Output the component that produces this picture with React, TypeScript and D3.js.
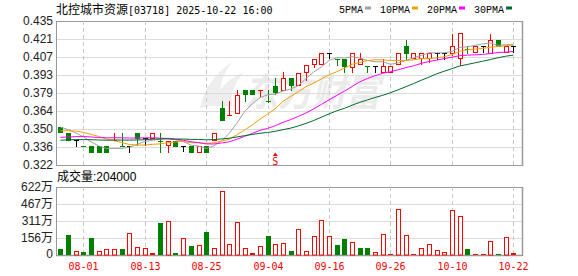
import React from 'react';
import * as d3 from 'd3';

const dates = [
  '07-29','07-30','07-31','08-01','08-04','08-05','08-06','08-07','08-08','08-11',
  '08-12','08-13','08-14','08-15','08-18','08-19','08-20','08-21','08-22','08-25',
  '08-26','08-27','08-28','08-29','09-01','09-02','09-03','09-04','09-05','09-08',
  '09-09','09-10','09-11','09-12','09-15','09-16','09-17','09-18','09-19','09-22',
  '09-23','09-24','09-25','09-26','09-29','09-30','10-02','10-03','10-06','10-08',
  '10-09','10-10','10-13','10-14','10-15','10-16','10-17','10-20','10-21','10-22',
];

const opens = [
  0.352,0.347,0.342,0.337,0.337,0.337,0.337,0.342,0.337,0.337,
  0.347,0.343,0.343,0.341,0.3375,0.341,0.337,0.337,0.332,0.337,
  0.342,0.3665,0.361,0.3625,0.381,0.381,0.381,0.3725,0.384,0.381,
  0.390,0.385,0.3952,0.401,0.401,0.410,0.405,0.405,0.399,0.401,
  0.400,0.400,0.395,0.395,0.401,0.4155,0.406,0.406,0.406,0.410,
  0.410,0.410,0.4057,0.413,0.411,0.4155,0.410,0.420,0.411,0.4155,
];
const highs = [
  0.352,0.347,0.342,0.337,0.337,0.337,0.337,0.347,0.347,0.337,
  0.347,0.343,0.347,0.347,0.341,0.341,0.337,0.337,0.337,0.337,
  0.347,0.372,0.372,0.381,0.381,0.381,0.381,0.381,0.390,0.3947,
  0.390,0.3945,0.4005,0.405,0.410,0.410,0.405,0.405,0.410,0.410,
  0.400,0.400,0.405,0.400,0.410,0.420,0.410,0.410,0.410,0.410,
  0.410,0.425,0.4253,0.415,0.4155,0.4155,0.425,0.420,0.4155,0.4155,
];
const lows = [
  0.348,0.342,0.337,0.337,0.332,0.332,0.332,0.342,0.337,0.332,
  0.338,0.338,0.343,0.332,0.332,0.337,0.333,0.332,0.332,0.332,
  0.342,0.357,0.361,0.3625,0.372,0.3775,0.3765,0.3717,0.378,0.381,
  0.3808,0.385,0.3887,0.399,0.401,0.4057,0.4005,0.395,0.395,0.401,
  0.395,0.395,0.395,0.395,0.401,0.405,0.406,0.401,0.4025,0.405,
  0.405,0.408,0.4003,0.410,0.411,0.411,0.410,0.4155,0.411,0.411,
];
const closes = [
  0.348,0.342,0.342,0.337,0.332,0.332,0.332,0.342,0.337,0.337,
  0.343,0.343,0.347,0.341,0.341,0.337,0.337,0.332,0.337,0.332,
  0.347,0.357,0.361,0.377,0.3775,0.3775,0.381,0.3725,0.3795,0.390,
  0.3848,0.3945,0.4005,0.405,0.410,0.410,0.405,0.400,0.410,0.405,
  0.400,0.400,0.400,0.400,0.410,0.410,0.410,0.410,0.410,0.410,
  0.410,0.4155,0.4253,0.413,0.4155,0.4155,0.420,0.4155,0.4155,0.4155,
];
// volume in 万 shares
const volumes = [
  55,183,40,25,152,40,52,52,52,198,
  70,61,21,290,311,15,152,82,91,213,
  61,585,98,299,61,15,79,174,98,107,
  37,235,34,171,317,171,91,146,119,64,
  64,24,189,9,418,180,9,61,98,46,
  24,409,354,55,9,9,128,9,162,20.4,
];
// closes of the 29 sessions before the first visible one (estimated from MA levels)
const priorCloses = [
  0.335,0.335,0.337,0.335,0.338,0.337,0.337,0.340,0.338,0.338,
  0.337,0.335,0.337,0.338,0.340,0.338,0.340,0.338,0.342,0.340,
  0.342,0.345,0.347,0.347,0.349,0.352,0.355,0.352,0.352,
];

const priceTickLabels = ['0.435','0.421','0.407','0.393','0.379','0.364','0.350','0.336','0.322'];
const volumeTickLabels = ['622万','467万','311万','156万','0'];
const xTickDates = ['08-01','08-13','08-25','09-04','09-16','09-26','10-10','10-22'];
const maPeriods = [5, 10, 20, 30];
const maNames = ['5PMA','10PMA','20PMA','30PMA'];
const signalDate = '09-05';
const stockTitle = '北控城市资源';
const stockCode = '[03718] 2025-10-22 16:00';
const lastVolumeText = '成交量:204000';

const maColors = ['#a0a0a0', '#f0a000', '#ff00ff', '#006b2c'];
const RED = '#ff0000';
const GREEN = '#008000';

const PLOT_L = 56, PLOT_R = 522;
const MAIN_T = 21, MAIN_B = 165;
const VOL_T = 187, VOL_B = 255;

export default function App() {
  const x = d3.scalePoint<string>().domain(dates).range([60.3, 513.3]);
  const y = d3.scaleLinear().domain([0.322, 0.435]).range([MAIN_B, MAIN_T]);
  const yv = d3.scaleLinear().domain([0, 622]).range([VOL_B, VOL_T]);

  const all = priorCloses.concat(closes);
  const off = priorCloses.length;
  const mas = maPeriods.map((p) =>
    closes.map((_, i) => {
      const end = i + off;
      const start = end - p + 1;
      if (start < 0) return null;
      return d3.mean(all.slice(start, end + 1)) as number;
    })
  );

  const line = d3
    .line<number | null>()
    .defined((d) => d != null)
    .x((_, i) => x(dates[i]) as number)
    .y((d) => y(d as number));

  const candleColor = (i: number) => {
    const o = opens[i], c = closes[i];
    const prev = i > 0 ? closes[i - 1] : priorCloses[priorCloses.length - 1];
    if (c > o) return RED;
    if (c < o) return GREEN;
    if (c > prev) return RED;
    if (c < prev) return GREEN;
    return '#000000';
  };
  const volUp = (i: number) => {
    const prev = i > 0 ? closes[i - 1] : priorCloses[priorCloses.length - 1];
    return closes[i] >= prev;
  };

  const priceTickVals = d3.range(priceTickLabels.length).map(
    (k) => 0.435 - (k * (0.435 - 0.322)) / (priceTickLabels.length - 1)
  );
  const volTickVals = d3.range(volumeTickLabels.length).map(
    (k) => 622 - (k * 622) / (volumeTickLabels.length - 1)
  );

  // legend layout
  let lx = 339;
  const legendItems = maNames.map((n, k) => {
    const item = { name: n, x: lx, color: maColors[k] };
    lx += n.length * 6 + 2 + 6 + 9;
    return item;
  });

  const sx = x(signalDate) as number;

  return (
    <svg
      width={578}
      height={276}
      style={{ position: 'absolute', left: 0, top: 0, background: '#fff' }}
      shapeRendering="auto"
    >
      <rect x={0} y={0} width={578} height={276} fill="#ffffff" />
      {/* title */}
      <text x={56} y={14} fontSize={12} fontFamily="'Noto Sans CJK SC', sans-serif" fill="#000">
        {stockTitle}
        <tspan fontFamily="'DejaVu Sans Mono', monospace" fontSize={10}>{stockCode}</tspan>
      </text>
      {/* legend */}
      {legendItems.map((it) => (
        <g key={it.name}>
          <text x={it.x} y={12.5} fontSize={10} fontFamily="'Liberation Mono', monospace" fill="#000">
            {it.name}
          </text>
          <rect x={it.x + it.name.length * 6 + 2} y={6.5} width={6} height={3} fill={it.color} />
        </g>
      ))}

      {/* watermark */}
      <g opacity={1}>
        <path
          d="M200,108 C204,90 214,74 232,62 C222,76 218,88 220,104 Z M212,106 C216,92 226,80 244,72 C234,84 230,94 232,106 Z"
          fill="#eeeeee"
        />
        <text
          x={244}
          y={106}
          fontSize={38}
          fontWeight="bold"
          fontStyle="italic"
          fontFamily="'Noto Sans CJK SC', sans-serif"
          fill="#ebebeb"
          textLength={136}
          lengthAdjust="spacingAndGlyphs"
        >
          东方财富
        </text>
      </g>

      {/* main grid */}
      {priceTickVals.map((v, k) => (
        <line
          key={'pg' + k}
          x1={PLOT_L}
          x2={PLOT_R}
          y1={Math.round(y(v)) + 0.5}
          y2={Math.round(y(v)) + 0.5}
          stroke={k === 0 || k === priceTickVals.length - 1 ? '#999' : '#dcdcdc'}
          strokeWidth={1}
        />
      ))}
      {volTickVals.map((v, k) => (
        <line
          key={'vg' + k}
          x1={PLOT_L}
          x2={PLOT_R}
          y1={Math.round(yv(v)) + 0.5}
          y2={Math.round(yv(v)) + 0.5}
          stroke={k === 0 || k === volTickVals.length - 1 ? '#999' : '#dcdcdc'}
          strokeWidth={k === volTickVals.length - 1 ? 1.5 : 1}
        />
      ))}
      {xTickDates.map((d) => {
        const xx = Math.round(x(d) as number) + 0.5;
        return (
          <g key={'xg' + d}>
            <line x1={xx} x2={xx} y1={MAIN_T} y2={MAIN_B} stroke="#c8c8c8" strokeDasharray="4,3" />
            <line x1={xx} x2={xx} y1={VOL_T} y2={VOL_B} stroke="#c8c8c8" strokeDasharray="4,3" />
            <text
              x={xx}
              y={269.5}
              textAnchor="middle"
              fontSize={10}
              fontFamily="'DejaVu Sans Mono', monospace"
              fill={RED}
            >
              {d}
            </text>
          </g>
        );
      })}
      {/* frames */}
      <line x1={PLOT_L + 0.5} x2={PLOT_L + 0.5} y1={MAIN_T} y2={MAIN_B + 1} stroke="#999" />
      <line x1={PLOT_R + 0.5} x2={PLOT_R + 0.5} y1={MAIN_T} y2={MAIN_B + 1} stroke="#999" strokeWidth={1.5} />
      <line x1={PLOT_L + 0.5} x2={PLOT_L + 0.5} y1={VOL_T} y2={VOL_B + 1} stroke="#999" />
      <line x1={PLOT_R + 0.5} x2={PLOT_R + 0.5} y1={VOL_T} y2={VOL_B + 1} stroke="#999" strokeWidth={1.5} />

      {/* y labels */}
      {priceTickVals.map((v, k) => (
        <text
          key={'pl' + k}
          x={53}
          y={y(v) + 4}
          textAnchor="end"
          fontSize={12}
          fontFamily="'Liberation Sans', Arial, sans-serif"
          fill="#222"
        >
          {priceTickLabels[k]}
        </text>
      ))}
      {volTickVals.map((v, k) => (
        <text
          key={'vl' + k}
          x={53}
          y={Math.min(yv(v) + 4, 257.5)}
          textAnchor="end"
          fontSize={12}
          fontFamily="'Liberation Sans', 'Noto Sans CJK SC', sans-serif"
          fill="#222"
        >
          {volumeTickLabels[k]}
        </text>
      ))}
      <text x={57} y={181} fontSize={12} fontFamily="'Liberation Sans', 'Noto Sans CJK SC', sans-serif" fill="#000">
        {lastVolumeText}
      </text>

      {/* candles */}
      {dates.map((d, i) => {
        const px = Math.round(x(d) as number);
        const col = candleColor(i);
        const o = opens[i], c = closes[i];
        const top = Math.round(y(Math.max(o, c)));
        const bot = Math.round(y(Math.min(o, c)));
        const hy = Math.round(y(highs[i]));
        const ly = Math.round(y(lows[i]));
        const cx = px + 0.5;
        const els: React.ReactNode[] = [];
        if (hy < top) els.push(<line key="h" x1={cx} x2={cx} y1={hy} y2={top} stroke={col} />);
        if (ly > bot) els.push(<line key="l" x1={cx} x2={cx} y1={bot} y2={ly + 1} stroke={col} />);
        if (top === bot) {
          els.push(<line key="b" x1={px - 2} x2={px + 3} y1={top + 0.5} y2={top + 0.5} stroke={col} />);
        } else if (c > o) {
          els.push(
            <rect key="b" x={px - 1.5} y={top + 0.5} width={4} height={bot - top} fill="#fff" stroke={col} />
          );
        } else {
          els.push(<rect key="b" x={px - 2} y={top} width={5} height={bot - top + 1} fill={col} />);
        }
        return <g key={'c' + i}>{els}</g>;
      })}

      {/* moving averages */}
      {mas.map((m, k) => (
        <path key={'ma' + k} d={line(m) || ''} fill="none" stroke={maColors[k]} strokeWidth={1} />
      ))}

      {/* signal marker */}
      <path d={`M${sx},${152.5} L${sx + 2.5},${156} L${sx - 2.5},${156} Z`} fill={RED} />
      <text x={sx} y={164.5} textAnchor="middle" fontSize={10} fontFamily="'DejaVu Sans Mono', monospace" fill={RED}>
        S
      </text>

      {/* volume bars */}
      {dates.map((d, i) => {
        const px = Math.round(x(d) as number);
        const top = Math.round(yv(volumes[i]));
        const up = volUp(i);
        if (up) {
          const h = Math.max(VOL_B - top, 1);
          return h <= 2 ? (
            <rect key={'v' + i} x={px - 2} y={VOL_B - h} width={5} height={h} fill={RED} />
          ) : (
            <rect key={'v' + i} x={px - 1.5} y={top + 0.5} width={4} height={VOL_B - top - 0.5} fill="#fff" stroke={RED} />
          );
        }
        return <rect key={'v' + i} x={px - 2} y={top} width={5} height={VOL_B - top} fill={GREEN} />;
      })}
    </svg>
  );
}
